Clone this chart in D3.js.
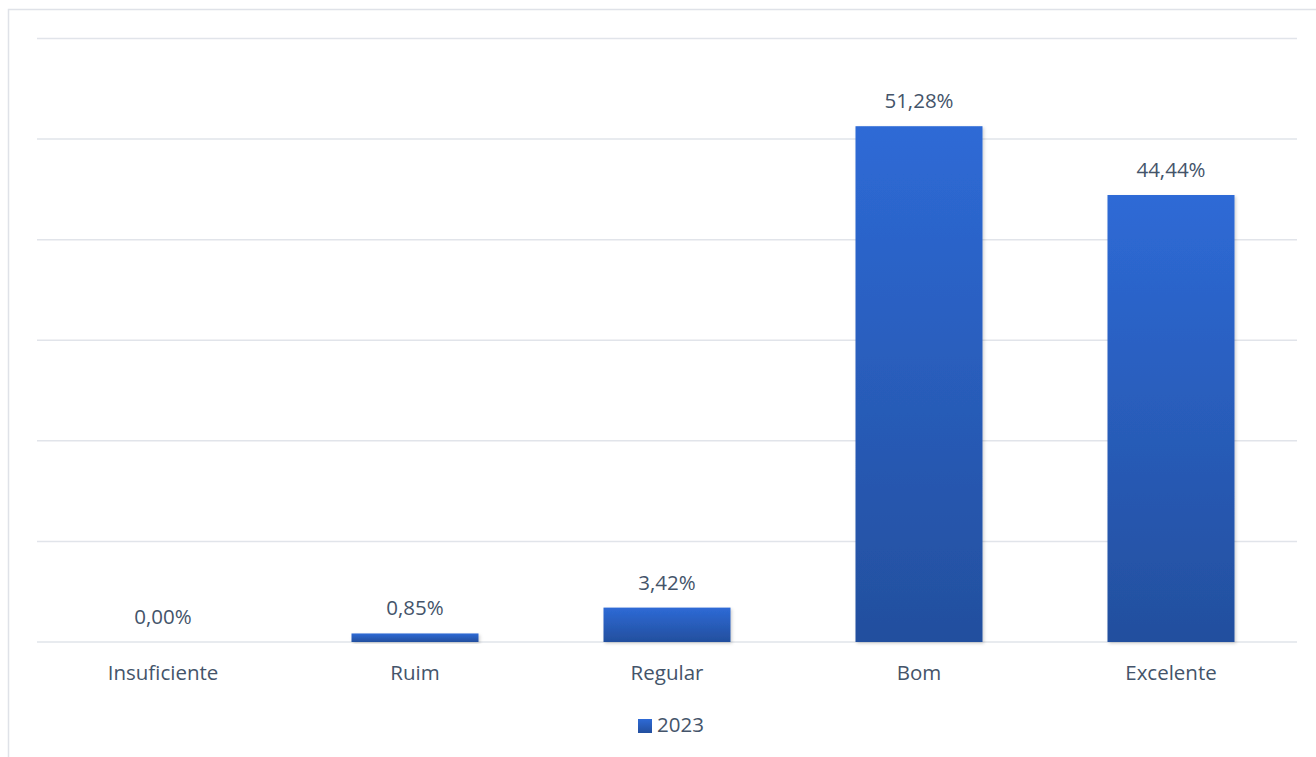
<!DOCTYPE html>
<html><head><meta charset="utf-8">
<script src="https://cdn.jsdelivr.net/npm/d3@7"></script>
<style>body{margin:0;background:#fff;} text{font-family:"Open Sans","Noto Sans",sans-serif;fill:#44546a;}</style>
</head><body>
<svg id="c" width="1316" height="757"></svg>
<script>
const categories = ["Insuficiente","Ruim","Regular","Bom","Excelente"];
const values2023 = [0.00, 0.85, 3.42, 51.28, 44.44];
const seriesName = "2023";
const yTicks = [0,10,20,30,40,50,60];

const svg = d3.select("#c");
const W=1316,H=757;
const FS="20.5px";
const m={left:37,right:19};
const x=d3.scaleBand().domain(categories).range([m.left,W-m.right]).paddingInner(0.496).paddingOuter(0.248);
const y=d3.scaleLinear().domain([0,60]).range([642,38.5]);

const defs=svg.append("defs");
const g=defs.append("linearGradient").attr("id","bg").attr("x1",0).attr("x2",0).attr("y1",0).attr("y2",1).attr("gradientUnits","objectBoundingBox");
g.append("stop").attr("offset","0%").attr("stop-color","#2e6ad6");
g.append("stop").attr("offset","100%").attr("stop-color","#234f9e");
const f=defs.append("filter").attr("id","sh").attr("x","-10%").attr("y","-10%").attr("width","130%").attr("height","130%");
f.append("feDropShadow").attr("dx",1.5).attr("dy",1.5).attr("stdDeviation",1.5).attr("flood-color","#000").attr("flood-opacity",0.18);

// chart border
svg.append("rect").attr("x",8.5).attr("y",9.5).attr("width",1320).attr("height",760).attr("fill","none").attr("stroke","#dfe2e8").attr("stroke-width",1.5);

// gridlines
svg.append("g").selectAll("line").data(yTicks).join("line")
  .attr("x1",m.left).attr("x2",W-m.right).attr("y1",d=>y(d)).attr("y2",d=>y(d))
  .attr("stroke","#e1e4ea").attr("stroke-width",1.5);

// bars
svg.append("g").selectAll("rect").data(categories).join("rect")
  .attr("x",d=>x(d)).attr("width",x.bandwidth())
  .attr("y",(d,i)=>y(values2023[i])).attr("height",(d,i)=>y(0)-y(values2023[i]))
  .attr("fill","url(#bg)").attr("filter","url(#sh)");

// value labels
svg.append("g").selectAll("text").data(categories).join("text")
  .attr("x",d=>x(d)+x.bandwidth()/2).attr("y",(d,i)=>y(values2023[i])-18)
  .attr("text-anchor","middle").attr("font-size",FS)
  .text((d,i)=>values2023[i].toFixed(2).replace(".",",")+"%");

// x axis labels
const xa=svg.append("g").attr("transform","translate(0,642)").call(d3.axisBottom(x).tickSize(0).tickPadding(0));
xa.select(".domain").remove();
xa.selectAll("text").attr("font-size",FS).attr("dy",0).attr("y",38).style("fill","#44546a").attr("font-family","'Open Sans','Noto Sans',sans-serif");

// legend
const lg=svg.append("g");
lg.append("rect").attr("x",638).attr("y",719).attr("width",14).attr("height",14).attr("fill","url(#bg)");
lg.append("text").attr("x",657).attr("y",732).attr("font-size",FS).text(seriesName);
</script>
</body></html>
